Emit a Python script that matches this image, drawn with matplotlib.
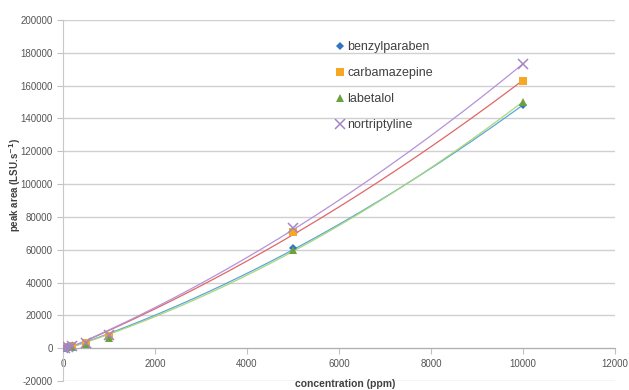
import numpy as np
import matplotlib.pyplot as plt

# concentrations (ppm) and peak areas
conc = np.array([10, 50, 100, 200, 500, 1000, 5000, 10000])
benzylparaben = [50, 250, 500, 1000, 2800, 6500, 61000, 148000]
carbamazepine = [60, 300, 600, 1200, 3200, 7500, 70500, 163000]
labetalol = [50, 250, 500, 1000, 2600, 6000, 60000, 150000]
nortriptyline = [60, 300, 650, 1300, 3300, 8000, 73500, 173000]

names = ['benzylparaben', 'carbamazepine', 'labetalol', 'nortriptyline']
series = [benzylparaben, carbamazepine, labetalol, nortriptyline]
markers = ['D', 's', '^', 'x']
mcolors = ['#2e75c4', '#f7a823', '#6ba23c', '#a585c8']
lcolors = ['#5aa5dc', '#e06666', '#a8d878', '#b592d8']
msizes = [4, 6, 6, 7]

plt.rcParams['font.family'] = ['Liberation Sans', 'DejaVu Sans']
plt.rcParams['axes.unicode_minus'] = False

fig = plt.figure(figsize=(6.29, 3.90), dpi=100)
ax = fig.add_axes([63 / 629, 1 - 381 / 390, 552 / 629, 361 / 390])

xs = np.linspace(0, 10000, 200)
for name, y, m, mc, lc, ms in zip(names, series, markers, mcolors, lcolors, msizes):
    # 2nd order polynomial trendline
    p = np.polyfit(conc, y, 2)
    ax.plot(xs, np.polyval(p, xs), color=lc, lw=0.9, zorder=2)
    ax.plot(conc, y, ls='none', marker=m, color=mc, ms=ms, mew=1.1 if m == 'x' else 0,
            label=name, zorder=3)

ax.set_xlim(0, 12000)
ax.set_ylim(-20000, 200000)
ax.set_xticks(np.arange(0, 12001, 2000))
ax.set_yticks(np.arange(-20000, 200001, 20000))
ax.grid(axis='y', color='#d0d0d0', lw=1)
ax.set_axisbelow(True)

for s in ['top', 'right']:
    ax.spines[s].set_visible(False)
ax.spines['bottom'].set_position(('data', 0))
ax.spines['bottom'].set_color('#b0b0b0')
ax.spines['left'].set_color('#c8c8c8')
ax.tick_params(colors='#c0c0c0', labelcolor='#555555', labelsize=7, length=4)
ax.tick_params(axis='x', pad=4)

fig.text(345 / 629, 1 - 384 / 390, 'concentration (ppm)', ha='center', va='center',
         fontsize=7.5, fontweight='bold', color='#404040')
fig.text(15 / 629, 1 - 185 / 390, r'peak area (LSU.s$^{\mathbf{-1}}$)', ha='center', va='center',
         rotation=90, fontsize=7, fontweight='bold', color='#404040')

ax.legend(loc='upper left', bbox_to_anchor=(0.476, 0.972), frameon=False, fontsize=9,
          handlelength=0.5, handletextpad=0.3, labelspacing=1.12, labelcolor='#404040')

fig.savefig('out.png', dpi=100)
